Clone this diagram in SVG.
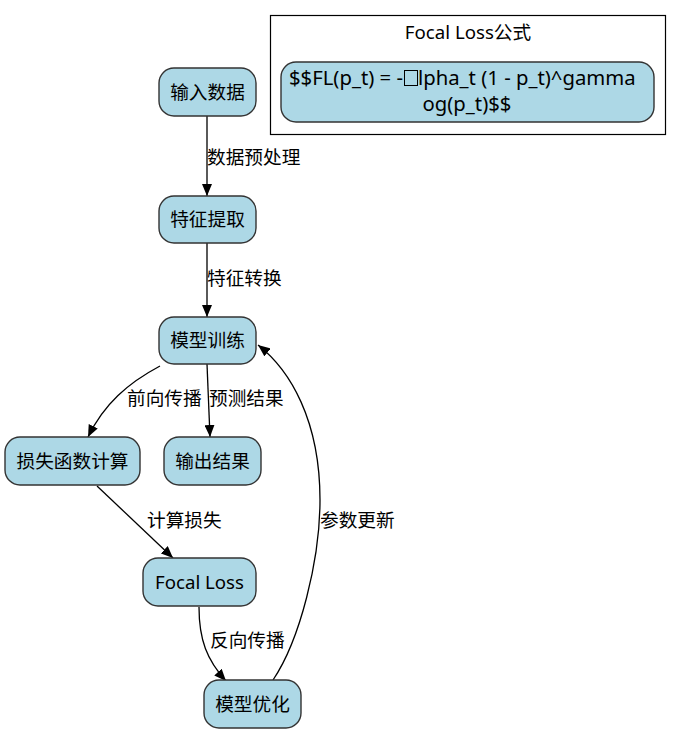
<svg xmlns="http://www.w3.org/2000/svg" width="681" height="733" viewBox="0 0 681 733">
<defs>
<style>
text{font-family:"Noto Sans","Noto Sans CJK SC",sans-serif;font-size:18.67px;fill:#000}
.node{fill:#add8e6;stroke:#333;stroke-width:1.4}
.c{text-anchor:middle}
.f{font-size:20.3px}
.edge{fill:none;stroke:#000;stroke-width:1.3}
</style>
<marker id="ah" markerUnits="userSpaceOnUse" markerWidth="12" markerHeight="10" refX="12" refY="5" orient="auto">
<path d="M0,0 L12,5 L0,10 z" fill="#000"/>
</marker>
</defs>
<rect width="681" height="733" fill="#fff"/>
<g id="cluster-formula">
<rect x="270.5" y="15.5" width="395" height="119" fill="#fff" stroke="#000" stroke-width="1.2"/>
<text class="c" x="468" y="39">Focal Loss公式</text>
<g id="formula">
<rect class="node" x="281" y="62" width="373" height="60" rx="15" stroke="none"/>
<text class="f" x="403" y="85" text-anchor="end">$$FL(p_t) = -</text>
<rect x="404.5" y="70.5" width="13" height="15" fill="none" stroke="#000" stroke-width="1"/>
<text class="f" x="418" y="85">lpha_t (1 - p_t)^gamma</text>
<text class="c f" x="467" y="111">og(p_t)$$</text>
</g>
</g>
<g id="edges">
<path class="edge" d="M207,116 L207,196" marker-end="url(#ah)"/>
<text x="207" y="164">数据预处理</text>
<path class="edge" d="M207,243 L207,317" marker-end="url(#ah)"/>
<text x="207" y="285">特征转换</text>
<path class="edge" d="M160,366 C128,383 104,404 88,437" marker-end="url(#ah)"/>
<text x="127" y="405">前向传播</text>
<path class="edge" d="M207,364 L210,437" marker-end="url(#ah)"/>
<text x="209" y="405">预测结果</text>
<path class="edge" d="M97,486 L173,558" marker-end="url(#ah)"/>
<text x="147" y="527">计算损失</text>
<path class="edge" d="M199,607 C199,640 207,660 226,681" marker-end="url(#ah)"/>
<text x="210" y="647">反向传播</text>
<path class="edge" d="M273,680 C300,640 320,560 320,500 C320,420 290,370 258,345" marker-end="url(#ah)"/>
<text x="320" y="527">参数更新</text>
</g>
<g id="n1"><rect class="node" x="159" y="68" width="97" height="48" rx="15"/><text class="c" x="207.5" y="99">输入数据</text></g>
<g id="n2"><rect class="node" x="159" y="196" width="97" height="47" rx="15"/><text class="c" x="207.5" y="226">特征提取</text></g>
<g id="n3"><rect class="node" x="159" y="317" width="97" height="47" rx="15"/><text class="c" x="207.5" y="347">模型训练</text></g>
<g id="n4"><rect class="node" x="5" y="437" width="135" height="48" rx="15"/><text class="c" x="72.5" y="468">损失函数计算</text></g>
<g id="n5"><rect class="node" x="164" y="437" width="97" height="48" rx="15"/><text class="c" x="212.5" y="468">输出结果</text></g>
<g id="n6"><rect class="node" x="143" y="558" width="113" height="48" rx="15"/><text class="c" x="199.5" y="589">Focal Loss</text></g>
<g id="n7"><rect class="node" x="204" y="680" width="97" height="48" rx="15"/><text class="c" x="252.5" y="711">模型优化</text></g>
</svg>
